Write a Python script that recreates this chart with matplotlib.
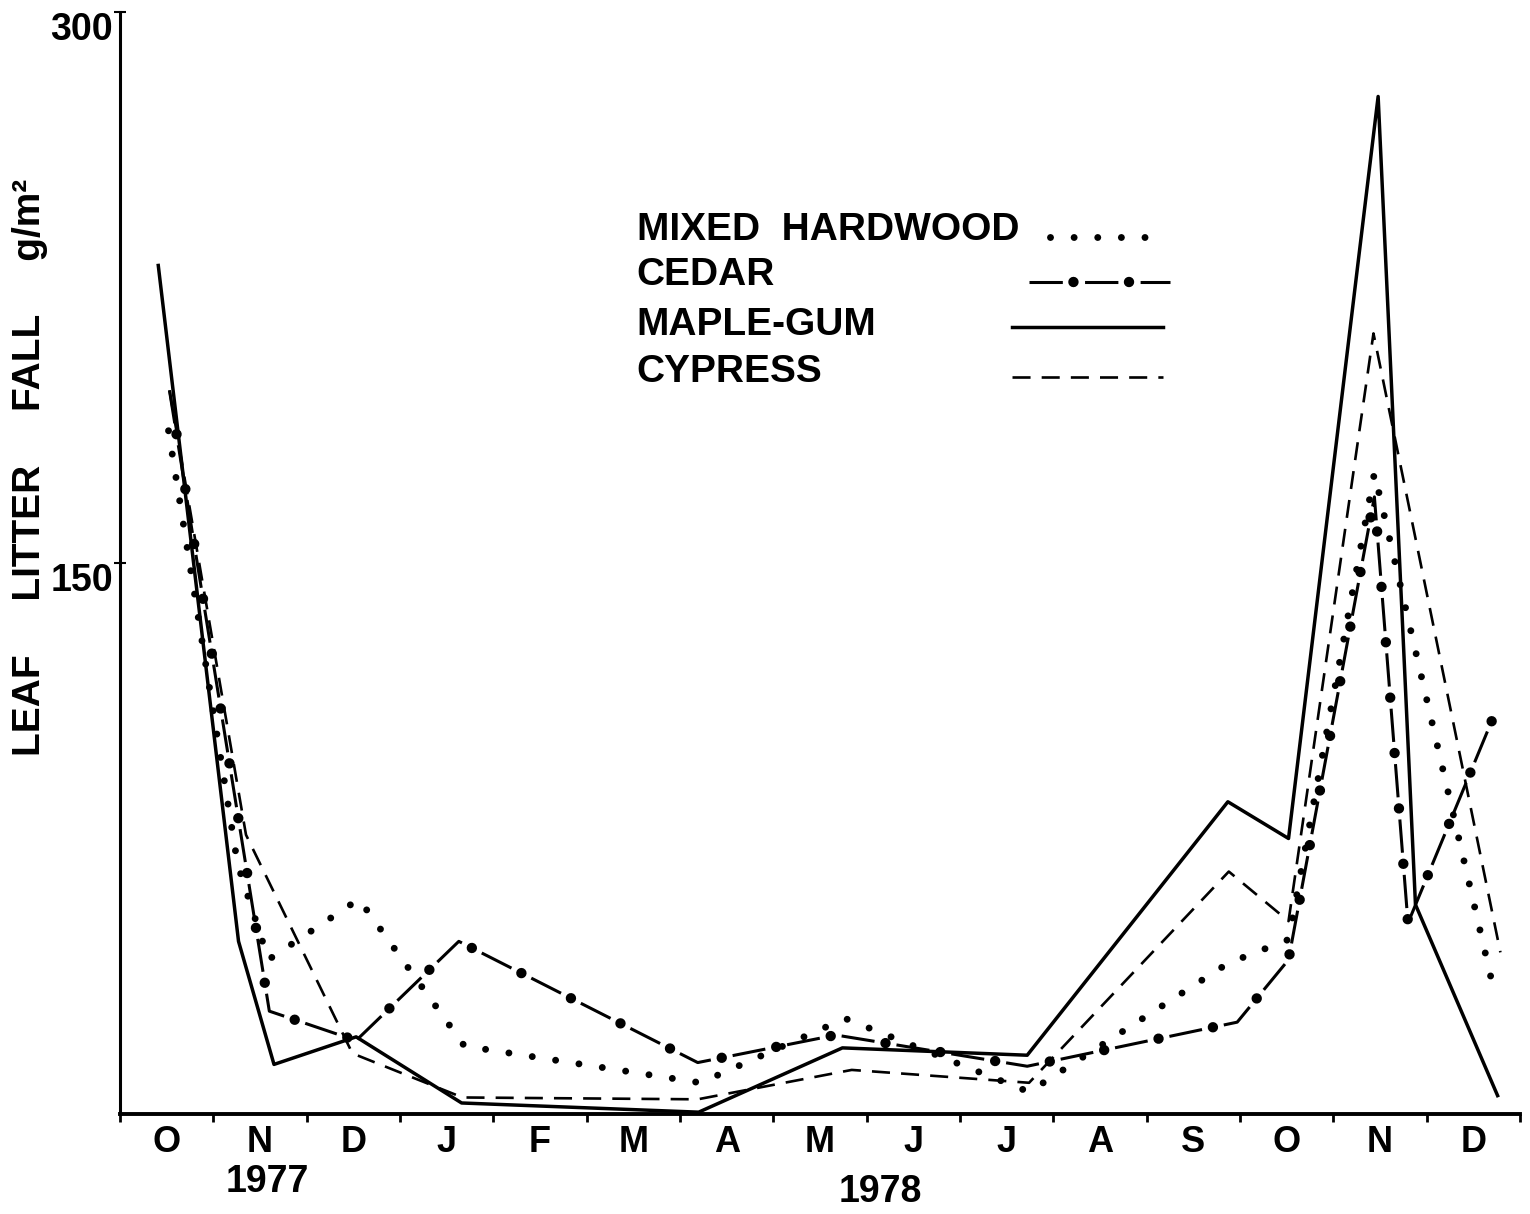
import numpy as np
import matplotlib
matplotlib.use("Agg")
import matplotlib.pyplot as plt
from matplotlib.transforms import blended_transform_factory

# время в месяцах от 1 октября 1977 (0 = начало окт. 1977, 15 = конец дек. 1978)
month_labels = ["O", "N", "D", "J", "F", "M", "A", "M", "J", "J", "A", "S", "O", "N", "D"]
year_labels = ["1977", "1978"]
year_pos = [1.58, 8.15]

# опад листьев, g/m^2
hardwood_t = [0.52, 1.26, 1.59, 2.56, 3.69, 6.22, 7.77, 9.74, 11.87, 12.52, 13.44, 14.74]
hardwood_v = [186, 68, 42, 58.5, 18.5, 8.5, 26, 6, 41, 47.5, 174.5, 31.5]

cedar_t = [0.53, 1.60, 2.53, 3.63, 6.19, 7.67, 9.72, 11.97, 12.52, 13.44, 13.80, 14.73]
cedar_v = [197, 28, 20, 47, 14, 21.5, 13, 25, 42, 168, 52, 109]

maple_t = [0.41, 1.27, 1.65, 2.53, 3.66, 6.20, 7.74, 9.72, 11.87, 12.52, 13.48, 13.88, 14.76]
maple_v = [231, 47, 13.5, 21, 3, 0.5, 18, 16, 85, 75, 277, 57, 5]

cypress_t = [0.53, 1.35, 2.49, 3.67, 6.19, 7.84, 9.74, 11.88, 12.52, 13.43, 14.79]
cypress_v = [197, 76, 16.5, 4.5, 4, 12, 8.5, 66, 52.5, 212.5, 44]

legend_labels = ["MIXED  HARDWOOD", "CEDAR", "MAPLE-GUM", "CYPRESS"]

plt.rcParams['font.family'] = ['Liberation Sans', 'DejaVu Sans']
plt.rcParams['font.weight'] = 'bold'
plt.rcParams['lines.scale_dashes'] = False

# стили линий: (ширина, штрихи); у кедра ещё точки поверх штрихов
HW_STYLE = dict(color='black', lw=5, linestyle=(0, (0.01, 17)), dash_capstyle='round')
CEDAR_DASH = dict(color='black', lw=2.2, linestyle=(0, (24, 16)))
CEDAR_DOTS = dict(color='black', lw=7.5, linestyle=(8, (0.01, 39.99)), dash_capstyle='round')
MAPLE_STYLE = dict(color='black', lw=2.5)
CYPRESS_STYLE = dict(color='black', lw=1.9, linestyle=(0, (13, 8)))

fig = plt.figure(figsize=(15.3, 12.14), dpi=100)
ax = fig.add_axes([120 / 1530, 100 / 1214, 1400 / 1530, 1102 / 1214])

ax.plot(hardwood_t, hardwood_v, **HW_STYLE)
ax.plot(cedar_t, cedar_v, **CEDAR_DASH)
ax.plot(cedar_t, cedar_v, **CEDAR_DOTS)
ax.plot(maple_t, maple_v, **MAPLE_STYLE)
ax.plot(cypress_t, cypress_v, **CYPRESS_STYLE)

ax.set_xlim(0, 15)
ax.set_ylim(0, 300)
ax.spines[['top', 'right']].set_visible(False)
ax.spines['left'].set_linewidth(2.2)
ax.spines['bottom'].set_linewidth(2.8)

# деления на границах месяцев, подписи по центру месяца
ax.set_xticks(np.arange(0, 16))
ax.set_xticks(np.arange(15) + 0.5, minor=True)
ax.set_xticklabels(month_labels, minor=True)
ax.tick_params(axis='x', which='major', direction='out', length=6, width=2, labelbottom=False)
ax.tick_params(axis='x', which='minor', length=0, pad=8, labelsize=26)

ax.set_yticks([150, 300])
ax.set_yticklabels(['150', '300'], va='top')
ax.tick_params(axis='y', direction='inout', length=8, width=1.5, pad=1, labelsize=27)

ax.set_ylabel("LEAF     LITTER     FALL     g/m²", fontsize=28, fontweight='bold',
              rotation=90, ha='center', va='center')
ax.yaxis.set_label_coords(-0.064, 0.587)

trans = blended_transform_factory(ax.transData, ax.transAxes)
for lbl, xp, yp in zip(year_labels, year_pos, [-0.062, -0.071]):
    ax.text(xp, yp, lbl, transform=trans, ha='center', va='center', fontsize=27)

# легенда вручную: текст слева, образец линии справа
row_y = [0.802, 0.761, 0.716, 0.673]
line_y = [0.796, 0.755, 0.714, 0.669]
line_x0 = [0.664, 0.649, 0.637, 0.637]
line_x1 = [0.743, 0.750, 0.745, 0.745]
styles = [[HW_STYLE], [CEDAR_DASH, CEDAR_DOTS], [MAPLE_STYLE], [CYPRESS_STYLE]]
for lbl, ty, ly, x0, x1, st in zip(legend_labels, row_y, line_y, line_x0, line_x1, styles):
    ax.text(0.369, ty, lbl, transform=ax.transAxes, ha='left', va='center', fontsize=28)
    for s in st:
        ax.plot([x0, x1], [ly, ly], transform=ax.transAxes, clip_on=False, **s)

fig.savefig("out.png", dpi=100)
